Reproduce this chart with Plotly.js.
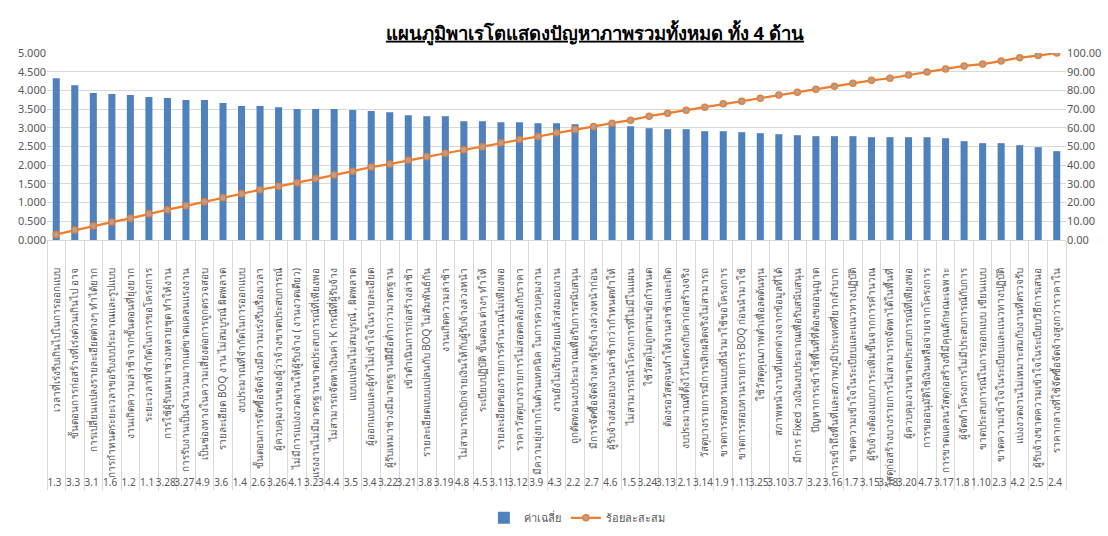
<!DOCTYPE html>
<html>
<head>
<meta charset="utf-8">
<script src="https://cdn.plot.ly/plotly-3.0.1.min.js"></script>
<style>html,body{margin:0;padding:0;background:#fff;}#chart{width:1108px;height:536px;}</style>
</head>
<body>
<div id="chart"></div>
<script>
const codes = ["1.3","3.3","3.1","1.6","1.2","1.1","3.28","3.27","4.9","3.6","1.4","2.6","3.26","4.1","3.23","4.4","3.5","3.4","3.22","3.21","3.8","3.19","4.8","4.5","3.11","3.12","3.9","4.3","2.2","2.7","4.6","1.5","3.24","3.13","2.1","3.14","1.9","1.11","3.25","3.10","3.7","3.2","3.16","1.7","3.15","3.18","3.20","4.7","3.17","1.8","1.10","2.3","4.2","2.5","2.4"];

const problems = [
"เวลาที่เร่งรีบเกินไปในการออกแบบ",
"ขั้นตอนการก่อสร้างที่เร่งด่วนเกินไป อาจ",
"การเปลี่ยนแปลงรายละเอียดต่างๆ ทำได้ยาก",
"การกำหนดระยะเวลาขอรับงบประมาณและรูปแบบ",
"งานเกิดความล่าช้าจากขั้นตอนที่ยุ่งยาก",
"ระยะเวลาที่จำกัดในการขอโครงการ",
"การใช้ผู้รับเหมาช่วงหลายชุด ทำให้งาน",
"การรับงานเป็นจำนวนมากแต่ขาดแคลนแรงงาน",
"เป็นช่องทางในความเสี่ยงต่อการถูกตรวจสอบ",
"รายละเอียด BOQ งาน ไม่สมบูรณ์ ผิดพลาด",
"งบประมาณที่จำกัดในการออกแบบ",
"ขั้นตอนการจัดซื้อจัดจ้างมีความเร่งรีบเรื่องเวลา",
"ผู้ควบคุมงานของผู้ว่าจ้างขาดประสบการณ์",
"ไม่มีการแบ่งงวดงานให้ผู้รับจ้าง ( งานงวดเดียว)",
"แรงงานไม่มีมาตรฐานขาดประสบการณ์ที่เพียงพอ",
"ไม่สามารถจัดหาเงินค่า K กรณีที่ผู้รับจ้าง",
"แบบแปลนไม่สมบูรณ์ , ผิดพลาด",
"ผู้ออกแบบและผู้ทำไม่เข้าใจในรายละเอียด",
"ผู้รับเหมาช่วงมีมาตรฐานฝีมือต่ำกว่ามาตรฐาน",
"เข้าดำเนินการก่อสร้างล่าช้า",
"รายละเอียดแบบแปลนกับ BOQ ไม่สัมพันธ์กัน",
"งานเกิดความล่าช้า",
"ไม่สามารถเบิกจ่ายเงินให้กับผู้รับจ้างล่วงหน้า",
"ระเบียบปฏิบัติ ขั้นตอน ต่างๆ ทำให้",
"รายละเอียดของรายการคำนวณไม่เพียงพอ",
"ราคาวัสดุบางรายการไม่สอดคล้องกับราคา",
"มีความยุ่งยากในด้านเทคนิค ในการควบคุมงาน",
"งานยังไม่เรียบร้อยแล้วส่งมอบงาน",
"ถูกตัดทอนงบประมาณเพื่อรับการสนับสนุน",
"มีการจัดซื้อจัดจ้างหาผู้รับจ้างล่วงหน้าก่อน",
"ผู้รับจ้างส่งมอบงานล่าช้ากว่ากำหนดทำให้",
"ไม่สามารถนำโครงการที่ไม่มีในแผน",
"ใช้วัสดุไม่ถูกตามข้อกำหนด",
"ต้องรอวัสดุจนทำให้งานล่าช้าและเกิด",
"งบประมาณที่ตั้งไว้ไม่ตรงกับค่าก่อสร้างจริง",
"วัสดุบางรายการมีการเลิกผลิตจริงไม่สามารถ",
"ขาดการสอบทานแบบที่นำมาใช้ขอโครงการ",
"ขาดการสอบทานรายการ BOQ ก่อนนำมาใช้",
"ใช้วัสดุคุณภาพต่ำเพื่อลดต้นทุน",
"สภาพหน้างานที่แตกต่างจากข้อมูลที่ได้",
"มีการ Fixed วงเงินงบประมาณเพื่อรับสนับสนุน",
"ปัญหาการเข้าใช้พื้นที่ที่ต้องขออนุญาต",
"การเข้าถึงพื้นที่และสภาพภูมิประเทศที่ยากลำบาก",
"ขาดความเข้าใจในระเบียบและแนวทางปฏิบัติ",
"ผู้รับจ้างต้องแบกภาระเพิ่มขึ้นจากการคำนวณ",
"วัสดุก่อสร้างบางรายการไม่สามารถจัดหาได้ในพื้นที่",
"ผู้ควบคุมงานขาดประสบการณ์ที่เพียงพอ",
"การขออนุมัติใช้เงินเหลือจ่ายจากโครงการ",
"การขาดแคลนวัสดุก่อสร้างที่มีคุณลักษณะเฉพาะ",
"ผู้จัดทำโครงการไม่มีประสบการณ์กับการ",
"ขาดประสบการณ์ในการออกแบบ เขียนแบบ",
"ขาดความเข้าใจในระเบียบและแนวทางปฏิบัติ",
"แบ่งงวดงานไม่เหมาะสมกับงานที่ตรวจรับ",
"ผู้รับจ้างขาดความเข้าใจในระเบียบวิธีการเสนอ",
"ราคากลางที่ใช้จัดซื้อจัดจ้างสูงกว่าราคาใน"
];

const meanScore = [4.324,4.137,3.932,3.906,3.879,3.826,3.799,3.746,3.746,3.665,3.585,3.585,3.55,3.505,3.505,3.505,3.479,3.452,3.416,3.336,3.310,3.310,3.176,3.176,3.149,3.149,3.123,3.123,3.096,3.096,3.07,3.043,2.989,2.963,2.963,2.909,2.909,2.883,2.856,2.829,2.802,2.776,2.776,2.776,2.749,2.749,2.749,2.749,2.722,2.642,2.589,2.589,2.536,2.482,2.375];

const cumPercent = [3.0,5.3,7.5,9.6,11.6,14.1,16.2,18.3,20.5,22.6,24.7,26.9,28.7,30.6,32.9,34.7,36.8,39.0,40.6,42.7,44.5,46.4,48.2,49.8,52.0,53.7,55.3,57.3,59.1,60.7,62.5,64.1,66.2,67.8,69.4,71.0,72.8,74.2,75.8,77.6,79.0,80.6,82.2,83.8,85.4,86.5,88.3,89.9,91.5,93.1,94.1,95.7,97.5,98.6,100.0];

const seriesNames = ["ค่าเฉลี่ย", "ร้อยละสะสม"];
const titleText = "แผนภูมิพาเรโตแสดงปัญหาภาพรวมทั้งหมด ทั้ง 4 ด้าน";

const xcat = [codes, problems];
const FONT = "Noto Sans, Liberation Sans, sans-serif";

const traces = [
  {
    type: "bar", name: seriesNames[0], x: xcat, y: meanScore,
    marker: {color: "#4F81BD"}, yaxis: "y"
  },
  {
    type: "scatter", mode: "lines+markers", name: seriesNames[1], x: xcat, y: cumPercent,
    yaxis: "y2",
    line: {color: "#ED7D31", width: 2.25},
    marker: {size: 6, color: "#A5A5A5", line: {color: "#ED7D31", width: 1.5}}
  }
];

const layout = {
  width: 1108, height: 536,
  margin: {l: 47, r: 42, t: 53, b: 296},
  paper_bgcolor: "#fff", plot_bgcolor: "#fff",
  font: {family: FONT, size: 11, color: "#595959"},
  bargap: 0.62,
  showlegend: true,
  title: {
    text: "<b>" + titleText + "</b>",
    x: 0.537, xref: "container", xanchor: "center",
    y: 0.938, yref: "container", yanchor: "middle",
    font: {family: FONT, size: 18.5, color: "#000", lineposition: "under"}
  },
  xaxis: {
    type: "multicategory",
    automargin: false,
    tickangle: -90,
    ticklabelstandoff: 23,
    tickfont: {family: FONT, size: 10, color: "#595959"},
    showline: true, linecolor: "#D9D9D9", linewidth: 1,
    showdividers: true, dividercolor: "#D9D9D9", dividerwidth: 1,
    ticks: "", showgrid: false,
    range: [-0.5, 54.5]
  },
  yaxis: {
    automargin: false,
    range: [0, 5], dtick: 0.5, tickformat: ".3f",
    showgrid: true, gridcolor: "#D9D9D9", gridwidth: 1,
    zeroline: false, showline: false, ticks: "",
    tickfont: {family: FONT, size: 11, color: "#595959"}
  },
  yaxis2: {
    automargin: false,
    overlaying: "y", side: "right",
    range: [0, 100], dtick: 10, tickformat: ".2f",
    showgrid: false, zeroline: false, showline: false, ticks: "",
    tickfont: {family: FONT, size: 11, color: "#595959"}
  },
  legend: {
    orientation: "h", x: 0.52, xanchor: "center",
    yref: "container", y: 0.034, yanchor: "middle",
    font: {family: FONT, size: 11, color: "#595959"}, bgcolor: "rgba(0,0,0,0)"
  }
};

Plotly.newPlot("chart", traces, layout, {displayModeBar: false, staticPlot: true});
</script>
</body>
</html>
